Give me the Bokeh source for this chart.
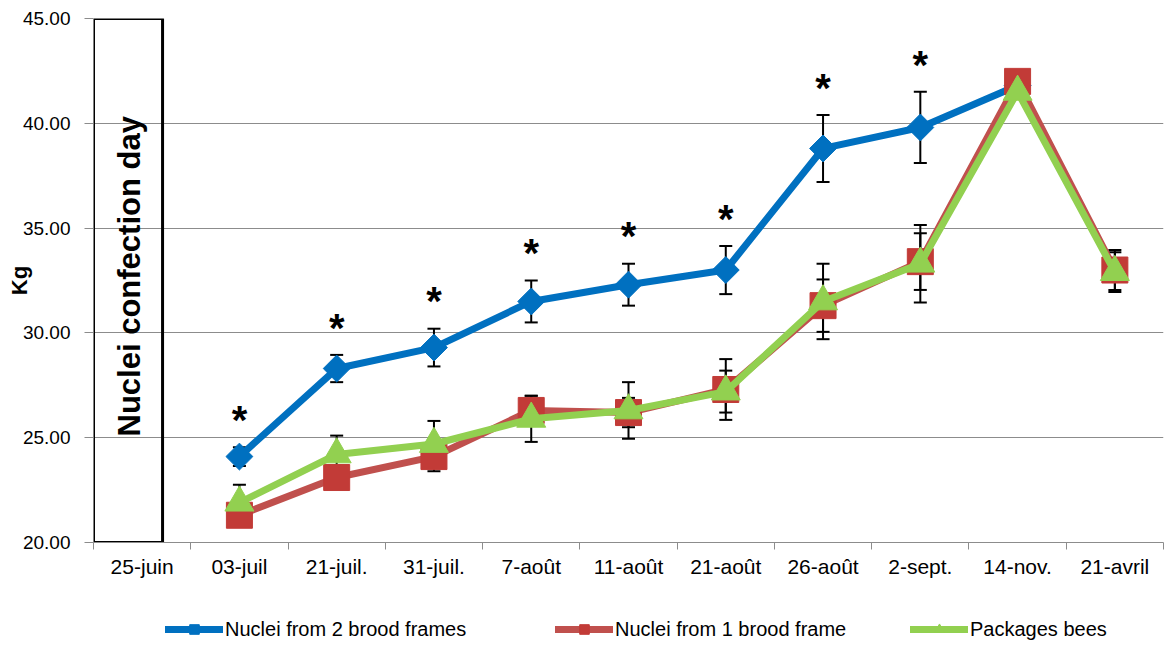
import math

from bokeh.core.properties import value
from bokeh.embed import file_html
from bokeh.layouts import column
from bokeh.models import (CategoricalAxis, ColumnDataSource, FactorRange, FixedTicker,
                          Legend, LegendItem, LinearAxis, PrintfTickFormatter, Range1d,
                          TeeHead, Whisker)
from bokeh.plotting import figure
from bokeh.resources import INLINE

nan = float("nan")

# Weighing dates (x categories)
dates = ["25-juin", "03-juil", "21-juil.", "31-juil.", "7-août", "11-août",
         "21-août", "26-août", "2-sept.", "14-nov.", "21-avril"]

# Mean colony weight (kg) and standard error per group
two_frames = [nan, 24.1, 28.3, 29.3, 31.5, 32.3, 33.0, 38.8, 39.8, 41.8, nan]
two_frames_err = [nan, 0.45, 0.65, 0.9, 1.0, 1.0, 1.15, 1.6, 1.7, 0.2, nan]

one_frame = [nan, 21.3, 23.1, 24.1, 26.3, 26.2, 27.3, 31.3, 33.4, 42.0, 33.0]
one_frame_err = [nan, 0.4, 0.5, 0.7, 0.7, 0.7, 1.45, 1.25, 1.35, 0.2, 0.95]

packages = [nan, 21.9, 24.2, 24.7, 25.9, 26.3, 27.2, 31.5, 33.3, 41.5, 32.9]
packages_err = [nan, 0.85, 0.9, 1.1, 1.1, 1.35, 1.0, 1.8, 1.85, 0.2, 0.95]

# Dates where the 2-frame nuclei differ significantly from the other groups
significant = [False, True, True, True, True, True, True, True, True, False, False]

y_ticks = [20, 25, 30, 35, 40, 45]

series_names = ["Nuclei from 2 brood frames", "Nuclei from 1 brood frame", "Packages bees"]

BLUE = "#0070c0"
RED = "#c0504d"
RED_MARK = "#c23b37"
GREEN = "#92d050"
GRID = "#8c8c8c"
FONT = "Liberation Sans"

p = figure(width=1171, height=590, output_backend="svg", toolbar_location=None,
           x_range=FactorRange(factors=dates, range_padding=0),
           y_range=Range1d(y_ticks[0], y_ticks[-1]),
           x_axis_location=None,
           min_border_left=93, min_border_right=8, min_border_top=18, min_border_bottom=48)
p.outline_line_color = None
p.background_fill_color = "white"
p.border_fill_color = "white"

# y axis
p.yaxis.ticker = FixedTicker(ticks=y_ticks)
p.yaxis.formatter = PrintfTickFormatter(format="%.2f")
p.yaxis.axis_line_color = None
p.yaxis.major_tick_out = 9
p.yaxis.major_tick_in = 0
p.yaxis.major_tick_line_color = GRID
p.yaxis.minor_tick_line_color = None
p.yaxis.major_label_standoff = 14
p.yaxis.major_label_text_font = FONT
p.yaxis.major_label_text_font_size = "19px"
p.yaxis.major_label_text_color = "black"
p.yaxis.axis_label = "Kg"
p.yaxis.axis_label_text_font = FONT
p.yaxis.axis_label_text_font_style = "bold"
p.yaxis.axis_label_text_font_size = "22px"
p.yaxis.axis_label_text_color = "black"
p.yaxis.axis_label_standoff = -12

p.ygrid.ticker = FixedTicker(ticks=y_ticks)
p.ygrid.grid_line_color = GRID
p.ygrid.grid_line_width = 1.2
p.xgrid.visible = False

# x axis: tick marks between the dates (labels hidden), then the date labels
tick_axis = LinearAxis(ticker=FixedTicker(ticks=list(range(len(dates) + 1))),
                       major_label_text_font_size="1px", major_label_text_color=None,
                       major_label_standoff=0,
                       major_tick_out=7, major_tick_in=0,
                       major_tick_line_color=GRID, minor_tick_line_color=None,
                       axis_line_color=GRID, axis_line_width=1.2)
label_axis = CategoricalAxis(axis_line_color=None, major_tick_line_color=None,
                             minor_tick_line_color=None, major_label_standoff=-1,
                             major_label_text_font=FONT, major_label_text_font_size="21px",
                             major_label_text_color="black")
p.add_layout(tick_axis, "below")
p.add_layout(label_axis, "below")

# Box marking the day the nuclei were made
box_right = 0.71
p.quad(left=[0], right=[box_right], bottom=[y_ticks[0]], top=[y_ticks[-1]],
       fill_color=None, line_color="black", line_width=3)
p.text(x=[box_right / 2 + 0.02], y=[(y_ticks[0] + y_ticks[-1]) / 2 + 0.2],
       text=["Nuclei confection day"], angle=math.pi / 2,
       text_font=value(FONT), text_font_style="bold", text_font_size="31px",
       text_align="center", text_baseline="middle", text_color="black")

series = [
    (two_frames, two_frames_err, BLUE, BLUE, "square", 19, math.pi / 4),
    (one_frame, one_frame_err, RED, RED_MARK, "square", 26, 0.0),
    (packages, packages_err, GREEN, GREEN, "triangle", 29, 0.0),
]

# Error bars, drawn beneath the lines
for vals, errs, _, _, _, _, _ in series:
    xs, lo, hi = [], [], []
    for d, v, e in zip(dates, vals, errs):
        if not math.isnan(v):
            xs.append(d)
            lo.append(v - e)
            hi.append(v + e)
    src = ColumnDataSource(dict(x=xs, lower=lo, upper=hi))
    w = Whisker(source=src, base="x", lower="lower", upper="upper", dimension="height",
                line_color="black", line_width=2, level="underlay",
                upper_head=TeeHead(size=13, line_color="black", line_width=2),
                lower_head=TeeHead(size=13, line_color="black", line_width=2))
    p.add_layout(w)

for vals, errs, lc, mc, marker, size, ang in series:
    src = ColumnDataSource(dict(x=dates, y=vals))
    p.line("x", "y", source=src, line_color=lc, line_width=7,
           line_join="round", line_cap="round")
    p.scatter("x", "y", source=src, marker=marker, size=size, angle=ang,
              fill_color=mc, line_color=mc, line_width=1)

# Significance stars above the 2-frame series
star_x, star_y = [], []
for d, v, e, s in zip(dates, two_frames, two_frames_err, significant):
    if s:
        star_x.append(d)
        star_y.append(v + e + 1.3)
p.text(x=star_x, y=star_y, text=["*"] * len(star_x),
       text_font=value(FONT), text_font_style="bold", text_font_size="40px",
       text_align="center", text_baseline="middle", text_color="black")

# Legend strip underneath the chart (its frame lines up with the chart's frame)
leg = figure(width=1171, height=55, output_backend="svg", toolbar_location=None,
             x_range=Range1d(0, 1), y_range=Range1d(0, 1),
             min_border=0, x_axis_location=None, y_axis_location=None)
leg.outline_line_color = None
leg.grid.visible = False

legend_x = [72, 462, 817]
for name, (vals, errs, lc, mc, marker, size, ang), lx in zip(series_names, series, legend_x):
    ln = leg.line(x=[nan], y=[nan], line_color=lc, line_width=7, line_cap="round")
    sc = leg.scatter(x=[nan], y=[nan], marker=marker, size=size, angle=ang,
                     fill_color=mc, line_color=mc)
    lg = Legend(items=[LegendItem(label=name, renderers=[ln, sc])], location=(lx, 4),
                orientation="horizontal", border_line_color=None,
                background_fill_alpha=0, padding=0, margin=0, spacing=0,
                glyph_width=58, glyph_height=24, label_standoff=2,
                label_text_font=FONT, label_text_font_size="20px",
                label_text_color="black")
    leg.add_layout(lg, "center")

page = column(p, leg, spacing=0)
open("out.html", "w").write(file_html(page, INLINE))
